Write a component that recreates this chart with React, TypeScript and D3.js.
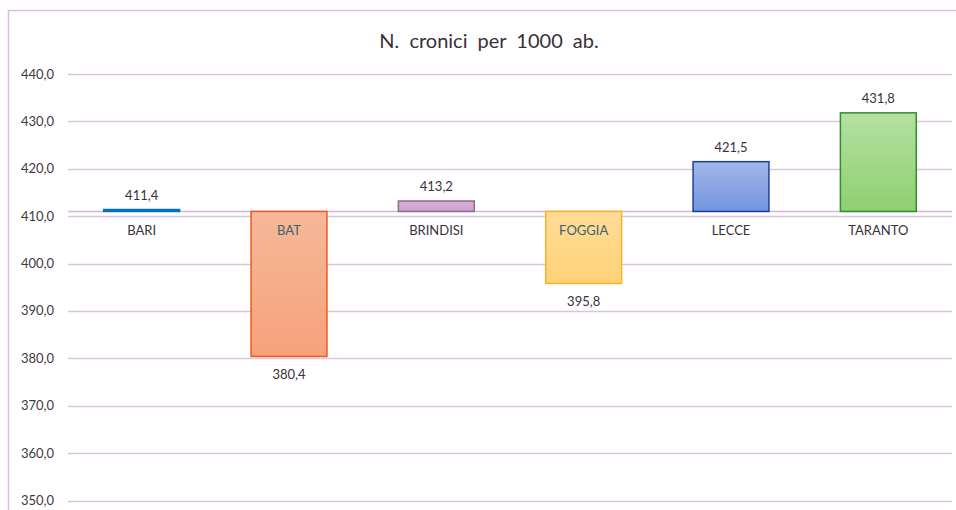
import React, { useEffect, useRef } from "react";
import * as d3 from "d3";

// N. cronici per 1000 abitanti, per provincia
const categories = ["BARI", "BAT", "BRINDISI", "FOGGIA", "LECCE", "TARANTO"];
const values = [411.4, 380.4, 413.2, 395.8, 421.5, 431.8];
const baseline = 411.0;
const yTicks = [350, 360, 370, 380, 390, 400, 410, 420, 430, 440];

const fills = [
  ["#0070c0", "#0070c0"],
  ["#f5b899", "#f6a27a"],
  ["#d8afd8", "#cfa2cf"],
  ["#ffdc98", "#ffd277"],
  ["#a3b6ea", "#7295df"],
  ["#b4e1a2", "#90cf70"],
];
const strokes = ["#0070c0", "#ea5a1e", "#8c6c8c", "#f6b32a", "#1e3fa2", "#2f8f2f"];

const App = () => {
  const ref = useRef<SVGSVGElement>(null);

  useEffect(() => {
    const width = 956,
      height = 510;
    const svg = d3.select(ref.current);
    svg.selectAll("*").remove();

    const font = "Lato, 'Open Sans', sans-serif";
    const x = d3.scaleBand().domain(categories).range([68, 952]).paddingInner(0.485).paddingOuter(0.2425);
    const y = d3.scaleLinear().domain([350, 440]).range([500.5, 74]);

    // chart border
    svg
      .append("rect")
      .attr("x", 8.5)
      .attr("y", 10.5)
      .attr("width", 960)
      .attr("height", 520)
      .attr("fill", "#fff")
      .attr("stroke", "#dcbfe0")
      .attr("stroke-width", 1.5);

    const defs = svg.append("defs");
    fills.forEach((f, i) => {
      const g = defs
        .append("linearGradient")
        .attr("id", "grad" + i)
        .attr("x1", 0)
        .attr("y1", 0)
        .attr("x2", 0)
        .attr("y2", 1);
      g.append("stop").attr("offset", "0%").attr("stop-color", f[0]);
      g.append("stop").attr("offset", "100%").attr("stop-color", f[1]);
    });

    // title
    svg
      .append("text")
      .attr("x", 489)
      .attr("y", 48)
      .attr("text-anchor", "middle")
      .style("font-family", font)
      .style("font-size", "20px")
      .style("word-spacing", "5px")
      .attr("fill", "#3a2f3a")
      .text("N. cronici per 1000 ab.");

    // gridlines + y labels
    const grid = svg.append("g");
    grid
      .selectAll("line")
      .data(yTicks)
      .enter()
      .append("line")
      .attr("x1", 68)
      .attr("x2", 952)
      .attr("y1", (d) => Math.round(y(d)) + 0.5)
      .attr("y2", (d) => Math.round(y(d)) + 0.5)
      .attr("stroke", "#dcc3df")
      .attr("stroke-width", 1.5);
    grid
      .selectAll("text")
      .data(yTicks)
      .enter()
      .append("text")
      .attr("x", 54)
      .attr("y", (d) => y(d) + 4.5)
      .attr("text-anchor", "end")
      .style("font-family", font)
      .style("font-size", "13px")
      .attr("fill", "#403a40")
      .text((d) => d3.format(".1f")(d).replace(".", ","));

    // axis at baseline
    svg
      .append("line")
      .attr("x1", 68)
      .attr("x2", 952)
      .attr("y1", y(baseline))
      .attr("y2", y(baseline))
      .attr("stroke", "#d4b6d8")
      .attr("stroke-width", 1.5);

    const data = categories.map((c, i) => ({ c, v: values[i], i }));

    // bars
    svg
      .append("g")
      .selectAll("rect")
      .data(data)
      .enter()
      .append("rect")
      .attr("x", (d) => x(d.c)!)
      .attr("width", x.bandwidth())
      .attr("y", (d) => Math.min(y(d.v), y(baseline)))
      .attr("height", (d) => Math.max(1.5, Math.abs(y(d.v) - y(baseline))))
      .attr("fill", (d) => `url(#grad${d.i})`)
      .attr("stroke", (d) => strokes[d.i])
      .attr("stroke-width", 1.5);

    // category labels
    svg
      .append("g")
      .selectAll("text")
      .data(data)
      .enter()
      .append("text")
      .attr("x", (d) => x(d.c)! + x.bandwidth() / 2)
      .attr("y", y(baseline) + 24)
      .attr("text-anchor", "middle")
      .style("font-family", font)
      .style("font-size", "13px")
      .attr("fill", (d) => (d.v < baseline ? "#3d6270" : "#3a2f3a"))
      .text((d) => d.c);

    // value labels
    svg
      .append("g")
      .selectAll("text")
      .data(data)
      .enter()
      .append("text")
      .attr("x", (d) => x(d.c)! + x.bandwidth() / 2)
      .attr("y", (d) => (d.v >= baseline ? y(d.v) - 10 : y(d.v) + 23))
      .attr("text-anchor", "middle")
      .style("font-family", font)
      .style("font-size", "13px")
      .attr("fill", "#3a2f3a")
      .text((d) => d3.format(".1f")(d.v).replace(".", ","));

    svg.attr("width", width).attr("height", height);
  }, []);

  return (
    <div style={{ position: "absolute", left: 0, top: 0, width: 956, height: 510, overflow: "hidden" }}>
      <svg ref={ref} width={956} height={510} style={{ display: "block" }}></svg>
    </div>
  );
};

export default App;
